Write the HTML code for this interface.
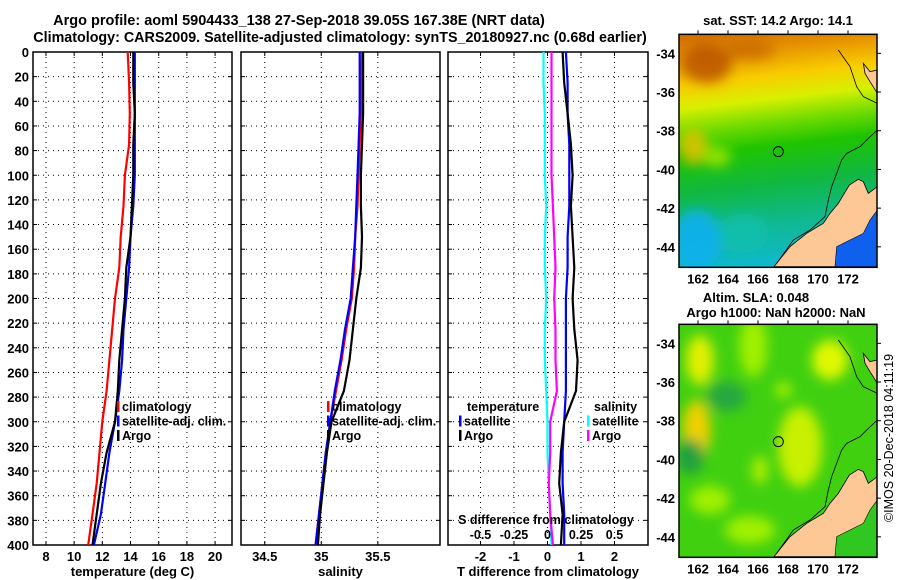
<!DOCTYPE html>
<html><head><meta charset="utf-8">
<style>
html,body{margin:0;padding:0;background:#fff;}
svg{display:block;font-family:"Liberation Sans",sans-serif;font-weight:bold;}
</style></head>
<body>
<svg id="fig" width="900" height="580" viewBox="0 0 900 580" xmlns="http://www.w3.org/2000/svg">
<defs>
<linearGradient id="sstg" x1="0" y1="0" x2="0.1" y2="1">
<stop offset="0" stop-color="#d06a00"/>
<stop offset="0.12" stop-color="#e89a00"/>
<stop offset="0.22" stop-color="#f8cc00"/>
<stop offset="0.32" stop-color="#d8f000"/>
<stop offset="0.42" stop-color="#70dc00"/>
<stop offset="0.52" stop-color="#20c400"/>
<stop offset="0.68" stop-color="#10b840"/>
<stop offset="0.85" stop-color="#10b890"/>
<stop offset="1" stop-color="#10b8c8"/>
</linearGradient>
<filter id="blur"><feGaussianBlur stdDeviation="6"/></filter>
<clipPath id="clipTop"><rect x="679" y="34" width="198" height="233"/></clipPath>
<clipPath id="clipBot"><rect x="679" y="324" width="198" height="233"/></clipPath>
</defs>
<text x="299" y="25" font-size="14.5" text-anchor="middle">Argo profile: aoml 5904433_138 27-Sep-2018 39.05S 167.38E (NRT data)</text>
<text x="340" y="42" font-size="14.3" text-anchor="middle">Climatology: CARS2009. Satellite-adjusted climatology: synTS_20180927.nc (0.68d earlier)</text>
<g id="panels"></g>
<g id="maps"></g>
</svg>
<script>
const depths=[0,25,50,75,100,125,150,175,200,225,250,275,300,325,350,375,400];
const tempClim=[13.8,13.9,13.95,13.9,13.6,13.5,13.3,13.2,12.9,12.7,12.5,12.3,12.0,11.8,11.6,11.3,11.0];
const tempSat=[14.3,14.3,14.3,14.3,14.3,14.2,14.0,13.9,13.7,13.5,13.4,13.2,12.9,12.5,12.2,11.9,11.4];
const tempArgo=[14.2,14.2,14.3,14.2,14.2,14.1,14.0,13.7,13.6,13.4,13.2,13.1,12.9,12.3,11.9,11.6,11.3];
const salClim=[35.36,35.35,35.35,35.34,35.33,35.32,35.3,35.29,35.27,35.22,35.18,35.13,35.08,35.04,35.01,34.98,34.95];
const salSat=[35.34,35.34,35.34,35.33,35.32,35.31,35.3,35.28,35.26,35.21,35.17,35.12,35.08,35.04,35.01,34.98,34.95];
const salArgo=[35.37,35.37,35.37,35.36,35.35,35.35,35.36,35.35,35.31,35.28,35.25,35.2,35.09,35.05,35.02,34.99,34.97];
const tDiffSat=[0.55,0.6,0.6,0.65,0.65,0.65,0.6,0.6,0.55,0.55,0.55,0.55,0.5,0.45,0.45,0.5,0.5];
const tDiffArgo=[0.45,0.5,0.6,0.7,0.75,0.7,0.75,0.8,0.75,0.8,0.9,0.85,0.5,0.4,0.35,0.45,0.4];
const sDiffSat=[-0.03,-0.03,-0.02,-0.02,-0.02,-0.01,-0.02,-0.02,-0.01,-0.02,-0.02,-0.01,0.0,0.0,0.01,0.02,0.03];
const sDiffArgo=[0.03,0.03,0.03,0.03,0.03,0.04,0.05,0.06,0.05,0.06,0.06,0.07,0.02,0.02,0.01,0.02,0.04];
const depthTicks=[0,20,40,60,80,100,120,140,160,180,200,220,240,260,280,300,320,340,360,380,400];
const tempTicks=[8,10,12,14,16,18,20];
const salTicks=[34.5,35,35.5];
const tdTicks=[-2,-1,0,1,2];
const sdTicks=[-0.5,-0.25,0,0.25,0.5];
const sdTickLabels=["-0.5","-0.25","0","0.25","0.5"];

const NS="http://www.w3.org/2000/svg";
const panelsG=document.getElementById('panels');
function mk(tag,attrs,parent){const e=document.createElementNS(NS,tag);for(const k in attrs)e.setAttribute(k,attrs[k]);(parent||panelsG).appendChild(e);return e;}
const Y0=52,Y1=545;
const yScale=d=>Y0+(d/400)*(Y1-Y0);

function panel(name,x0,x1,dmin,dmax,ticks,labels,xtitle,showY){
  const xs=v=>x0+(v-dmin)/(dmax-dmin)*(x1-x0);
  const g=mk('g',{});
  
  
  depthTicks.forEach(d=>{
    if(d>0&&d<400){const l=mk('line',{x1:x0,x2:x1,y1:yScale(d),y2:yScale(d),stroke:'#000','stroke-width':1,'stroke-dasharray':'1,4'},g);
    }
    mk('line',{x1:x0,x2:x0+4,y1:yScale(d),y2:yScale(d),stroke:'#000'},g);
    mk('line',{x1:x1-4,x2:x1,y1:yScale(d),y2:yScale(d),stroke:'#000'},g);
    if(showY){const t=mk('text',{x:x0-4,y:yScale(d)+5,'font-size':13,'text-anchor':'end'},g);t.textContent=d;
    }
  });
  ticks.forEach((v,i)=>{
    const x=xs(v);
    const l=mk('line',{x1:x,x2:x,y1:Y0,y2:Y1,stroke:'#000','stroke-dasharray':'1,4'},g);
    
    mk('line',{x1:x,x2:x,y1:Y1-4,y2:Y1,stroke:'#000'},g);
    mk('line',{x1:x,x2:x,y1:Y0,y2:Y0+4,stroke:'#000'},g);
    const t=mk('text',{x:x,y:561,'font-size':13,'text-anchor':'middle'},g);t.textContent=labels[i];
    
  });
  const tt=mk('text',{x:(x0+x1)/2,y:576,'font-size':13,'text-anchor':'middle'},g);tt.textContent=xtitle;
  
  const fr=mk('rect',{x:x0,y:Y0,width:x1-x0,height:Y1-Y0,fill:'none',stroke:'#000','stroke-width':1.5},g);
  
  return {g,xs};
}
function series(p,vals,scale,color,name){
  let d='';vals.forEach((v,i)=>{d+=(i?'L':'M')+p.xs(v*scale).toFixed(1)+','+yScale(depths[i]).toFixed(1);});
  const e=mk('path',{d:d,fill:'none',stroke:color,'stroke-width':2.2},p.g);
  
}
function legend(g,x,y,items,name){
  items.forEach((it,i)=>{
    const yy=y+i*14.5;
    if(it[1]) mk('rect',{x:x,y:yy-10,width:2.5,height:11,fill:it[1]},g);
    const t=mk('text',{x:x+(it[1]?5:0),y:yy,'font-size':12.5},g);t.textContent=it[0];
    
  });
}
const p1=panel('temperature-panel',33,232,7.08,21.2,tempTicks,tempTicks.map(String),'temperature (deg C)',true);
series(p1,tempClim,1,'#ff0000','temp-climatology-line');
series(p1,tempSat,1,'#0000ff','temp-satellite-line');
series(p1,tempArgo,1,'#000000','temp-argo-line');
legend(p1.g,117,411,[['climatology','#ff0000'],['satellite-adj. clim.','#0000ff'],['Argo','#000']],'temp-legend');

const p2=panel('salinity-panel',241,440,34.29,36.05,salTicks,['34.5','35','35.5'],'salinity',false);
series(p2,salClim,1,'#ff0000','sal-climatology-line');
series(p2,salSat,1,'#0000ff','sal-satellite-line');
series(p2,salArgo,1,'#000000','sal-argo-line');
legend(p2.g,327,411,[['climatology','#ff0000'],['satellite-adj. clim.','#0000ff'],['Argo','#000']],'sal-legend');

const p3=panel('difference-panel',448,648,-2.97,3.0,tdTicks,tdTicks.map(String),'T difference from climatology',false);
series(p3,sDiffSat,4,'#00ffff','s-diff-satellite-line');
series(p3,sDiffArgo,4,'#ff00ff','s-diff-argo-line');
series(p3,tDiffSat,1,'#0000ff','t-diff-satellite-line');
series(p3,tDiffArgo,1,'#000000','t-diff-argo-line');
legend(p3.g,467,411,[['temperature',null]],'t-legend-title');
legend(p3.g,459,425.5,[['satellite','#0000ff'],['Argo','#000']],'t-legend');
legend(p3.g,594,411,[['salinity',null]],'s-legend-title');
legend(p3.g,587,425.5,[['satellite','#00ffff'],['Argo','#ff00ff']],'s-legend');
const st=mk('text',{x:546,y:524,'font-size':12.5,'text-anchor':'middle'},p3.g);st.textContent='S difference from climatology';

sdTicks.forEach((v,i)=>{const t=mk('text',{x:p3.xs(v*4),y:539,'font-size':12.5,'text-anchor':'middle'},p3.g);t.textContent=sdTickLabels[i];
});

// maps
const mapsG=document.getElementById('maps');
function mapFrame(name){
  const g=mk('g',{},mapsG);
  
  return g;
}
const lonTicks=[162,164,166,168,170,172];
const latTicks=[-34,-36,-38,-40,-42,-44];
function drawMap(g,oy,kind){
  const clip=kind==='sst'?'url(#clipTop)':'url(#clipBot)';
  const inner=mk('g',{'clip-path':clip},g);
  const fx=px=>650+px/3, fy=py=>oy+py/3;
  if(kind==='sst'){
    mk('rect',{x:679,y:fy(103),width:198,height:233,fill:'url(#sstg)'},inner);
    const b=mk('g',{filter:'url(#blur)'},inner);
    mk('ellipse',{cx:fx(170),cy:fy(190),rx:25,ry:20,fill:'#b85000',opacity:0.8},b);
    mk('ellipse',{cx:fx(300),cy:fy(150),rx:25,ry:10,fill:'#c05a00',opacity:0.6},b);
    mk('ellipse',{cx:fx(130),cy:fy(440),rx:14,ry:18,fill:'#f0c000',opacity:0.8},b);
    mk('ellipse',{cx:fx(200),cy:fy(470),rx:14,ry:10,fill:'#c0f000',opacity:0.7},b);
    mk('ellipse',{cx:fx(140),cy:fy(720),rx:25,ry:30,fill:'#10b0f0',opacity:0.9},b);
    mk('ellipse',{cx:fx(280),cy:fy(700),rx:25,ry:20,fill:'#10c0b0',opacity:0.7},b);
  } else {
    mk('rect',{x:679,y:fy(103),width:198,height:233,fill:'#40d010'},inner);
    const b=mk('g',{filter:'url(#blur)'},inner);
    const blobs=[[150,210,14,25,'#e0f000'],[140,420,14,30,'#f0d000'],[310,170,14,30,'#a0f000'],[450,470,22,40,'#c8f000'],[540,210,18,20,'#e0f800'],[330,540,8,14,'#b0f000'],[230,320,20,15,'#28a840'],[120,500,14,18,'#20a040'],[400,300,8,8,'#a8f000'],[180,630,20,14,'#a0f000'],[300,720,25,14,'#a0f000']];
    blobs.forEach(bb=>mk('ellipse',{cx:fx(bb[0]),cy:fy(bb[1]),rx:bb[2],ry:bb[3],fill:bb[4]},b));
  }
  const land='M'+[[372,800],[420,740],[470,700],[520,670],[540,640],[565,610],[598,555],[625,538],[640,545],[655,580],[682,560],[682,800]].map(p=>fx(p[0])+','+fy(p[1])).join('L')+'Z';
  const ld=mk('path',{d:land,fill:'#fdc896',stroke:'#000','stroke-width':0.8},inner);
  
  const land2='M'+[[640,190],[660,215],[682,210],[682,280],[660,245],[645,220]].map(p=>fx(p[0])+','+fy(p[1])).join('L')+'Z';
  mk('path',{d:land2,fill:'#fdc896',stroke:'#000','stroke-width':0.8},inner);
  const sea='M'+[[555,800],[560,740],[600,720],[640,700],[660,660],[682,630],[682,800]].map(p=>fx(p[0])+','+fy(p[1])).join('L')+'Z';
  mk('path',{d:sea,fill:kind==='sst'?'#1060f0':'#30c820',stroke:'#000','stroke-width':0.6},inner);
  const cont='M'+[[565,150],[600,200],[620,260],[640,290],[682,310]].map(p=>fx(p[0])+','+fy(p[1])).join('L')+' M'+[[682,390],[650,420],[630,440],[590,460],[575,480],[560,520],[545,560],[535,600],[525,650],[480,690],[430,720],[380,790]].map(p=>fx(p[0])+','+fy(p[1])).join('L');
  mk('path',{d:cont,fill:'none',stroke:'#000','stroke-width':0.8},inner);
  const c=mk('circle',{cx:fx(385),cy:fy(455),r:5,fill:'none',stroke:'#000','stroke-width':1},g);
  
  mk('rect',{x:679,y:fy(103),width:198,height:233,fill:'none',stroke:'#000','stroke-width':1.5},g);
  const xsx=lon=>698+(lon-162)*15, ysy=lat=>fy(160)+(-34-lat)*19.35;
  lonTicks.forEach(l=>{const t=mk('text',{x:xsx(l),y:fy(103)+233+16,'font-size':13,'text-anchor':'middle'},g);t.textContent=l;
    
    mk('line',{x1:xsx(l),x2:xsx(l),y1:fy(103)-4,y2:fy(103),stroke:'#000'},g);});
  latTicks.forEach(l=>{const t=mk('text',{x:675,y:ysy(l)+5,'font-size':13,'text-anchor':'end'},g);t.textContent=l;
    
    mk('line',{x1:877,x2:881,y1:ysy(l),y2:ysy(l),stroke:'#000'},g);});
}
const g1=mapFrame('sst-map');
const t1=mk('text',{x:778,y:25,'font-size':13,'text-anchor':'middle'},g1);t1.textContent='sat. SST: 14.2 Argo: 14.1';

drawMap(g1,0,'sst');
const g2=mapFrame('sla-map');
const t2=mk('text',{x:756,y:302,'font-size':13,'text-anchor':'middle'},g2);t2.textContent='Altim. SLA: 0.048';

const t3=mk('text',{x:776,y:317,'font-size':13,'text-anchor':'middle'},g2);t3.textContent='Argo h1000: NaN h2000: NaN';

drawMap(g2,290,'sla');
const cr=mk('text',{x:0,y:0,'font-size':12.5,'font-weight':'normal','text-anchor':'middle',transform:'translate(893,438) rotate(-90)'},mapsG);
cr.textContent='©IMOS 20-Dec-2018 04:11:19';

</script>
</body></html>
